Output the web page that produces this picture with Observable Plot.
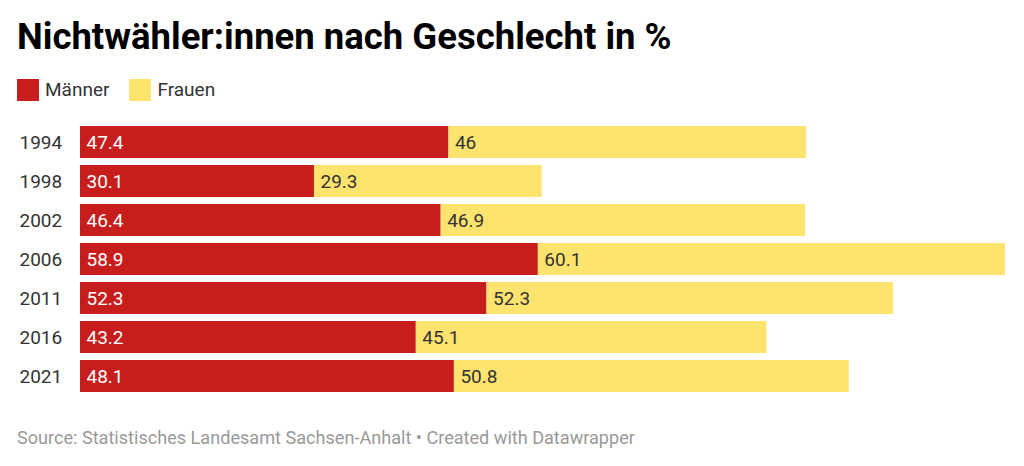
<!DOCTYPE html>
<html>
<head>
<meta charset="utf-8">
<script src="https://cdn.jsdelivr.net/npm/d3@7"></script>
<script src="https://cdn.jsdelivr.net/npm/@observablehq/plot@0.6"></script>
<style>
  html, body { margin: 0; padding: 0; background: #fff; }
  body { width: 1024px; height: 466px; position: relative; overflow: hidden; font-family: Roboto, "Noto Sans", sans-serif; }
  #title { position: absolute; left: 17px; top: 15px; font-size: 36.5px; font-weight: 700; color: #000; white-space: nowrap; }
  #legend { position: absolute; left: 17px; top: 78px; display: flex; align-items: center; font-size: 19px; color: #333; }
  .sw { width: 22px; height: 22px; display: inline-block; margin-right: 6px; }
  .item { display: flex; align-items: center; margin-right: 20px; }
  #chart { position: absolute; left: 0; top: 113px; }
  #caption { position: absolute; left: 17px; top: 427px; font-size: 18.1px; color: #999; white-space: nowrap; }
</style>
</head>
<body>
<div id="title">Nichtwähler:innen nach Geschlecht in %</div>
<div id="legend"></div>
<div id="chart"></div>
<div id="caption">Source: Statistisches Landesamt Sachsen-Anhalt • Created with Datawrapper</div>
<script>
const years = ["1994", "1998", "2002", "2006", "2011", "2016", "2021"];
const maenner = [47.4, 30.1, 46.4, 58.9, 52.3, 43.2, 48.1];
const frauen = [46, 29.3, 46.9, 60.1, 52.3, 45.1, 50.8];
const groups = ["Männer", "Frauen"];
const colors = ["#c71e1d", "#fee36e"];
const textColors = ["#ffffff", "#333333"];

const data = [
  ...years.map((y, i) => ({year: y, group: groups[0], value: maenner[i]})),
  ...years.map((y, i) => ({year: y, group: groups[1], value: frauen[i]}))
];

const legend = document.getElementById("legend");
groups.forEach((g, i) => {
  const it = document.createElement("span");
  it.className = "item";
  it.innerHTML = `<span class="sw" style="background:${colors[i]}"></span><span>${g}</span>`;
  legend.appendChild(it);
});

const chart = Plot.plot({
  width: 1024,
  height: 290,
  marginLeft: 80,
  marginRight: 19,
  marginTop: 11,
  marginBottom: 8,
  style: { fontFamily: "Roboto, sans-serif", fontSize: "19px", color: "#333", background: "#fff" },
  x: { domain: [0, 119], axis: null },
  y: { domain: years, paddingInner: 0.17, paddingOuter: 0, label: null, tickSize: 0, tickPadding: 0 },
  color: { domain: groups, range: colors },
  marks: [
    Plot.axisY({ tickSize: 0, textAnchor: "start", dx: -52, fontSize: 19, fill: "#333", label: null }),
    Plot.barX(data, Plot.stackX({ x: "value", y: "year", fill: "group", order: null })),
    Plot.text(data, Plot.stackX1({
      x: "value", y: "year", z: "group", order: null,
      text: d => String(d.value),
      textAnchor: "start", dx: 6, fontSize: 19,
      fill: d => textColors[groups.indexOf(d.group)]
    }))
  ]
});
document.getElementById("chart").appendChild(chart);
</script>
</body>
</html>
